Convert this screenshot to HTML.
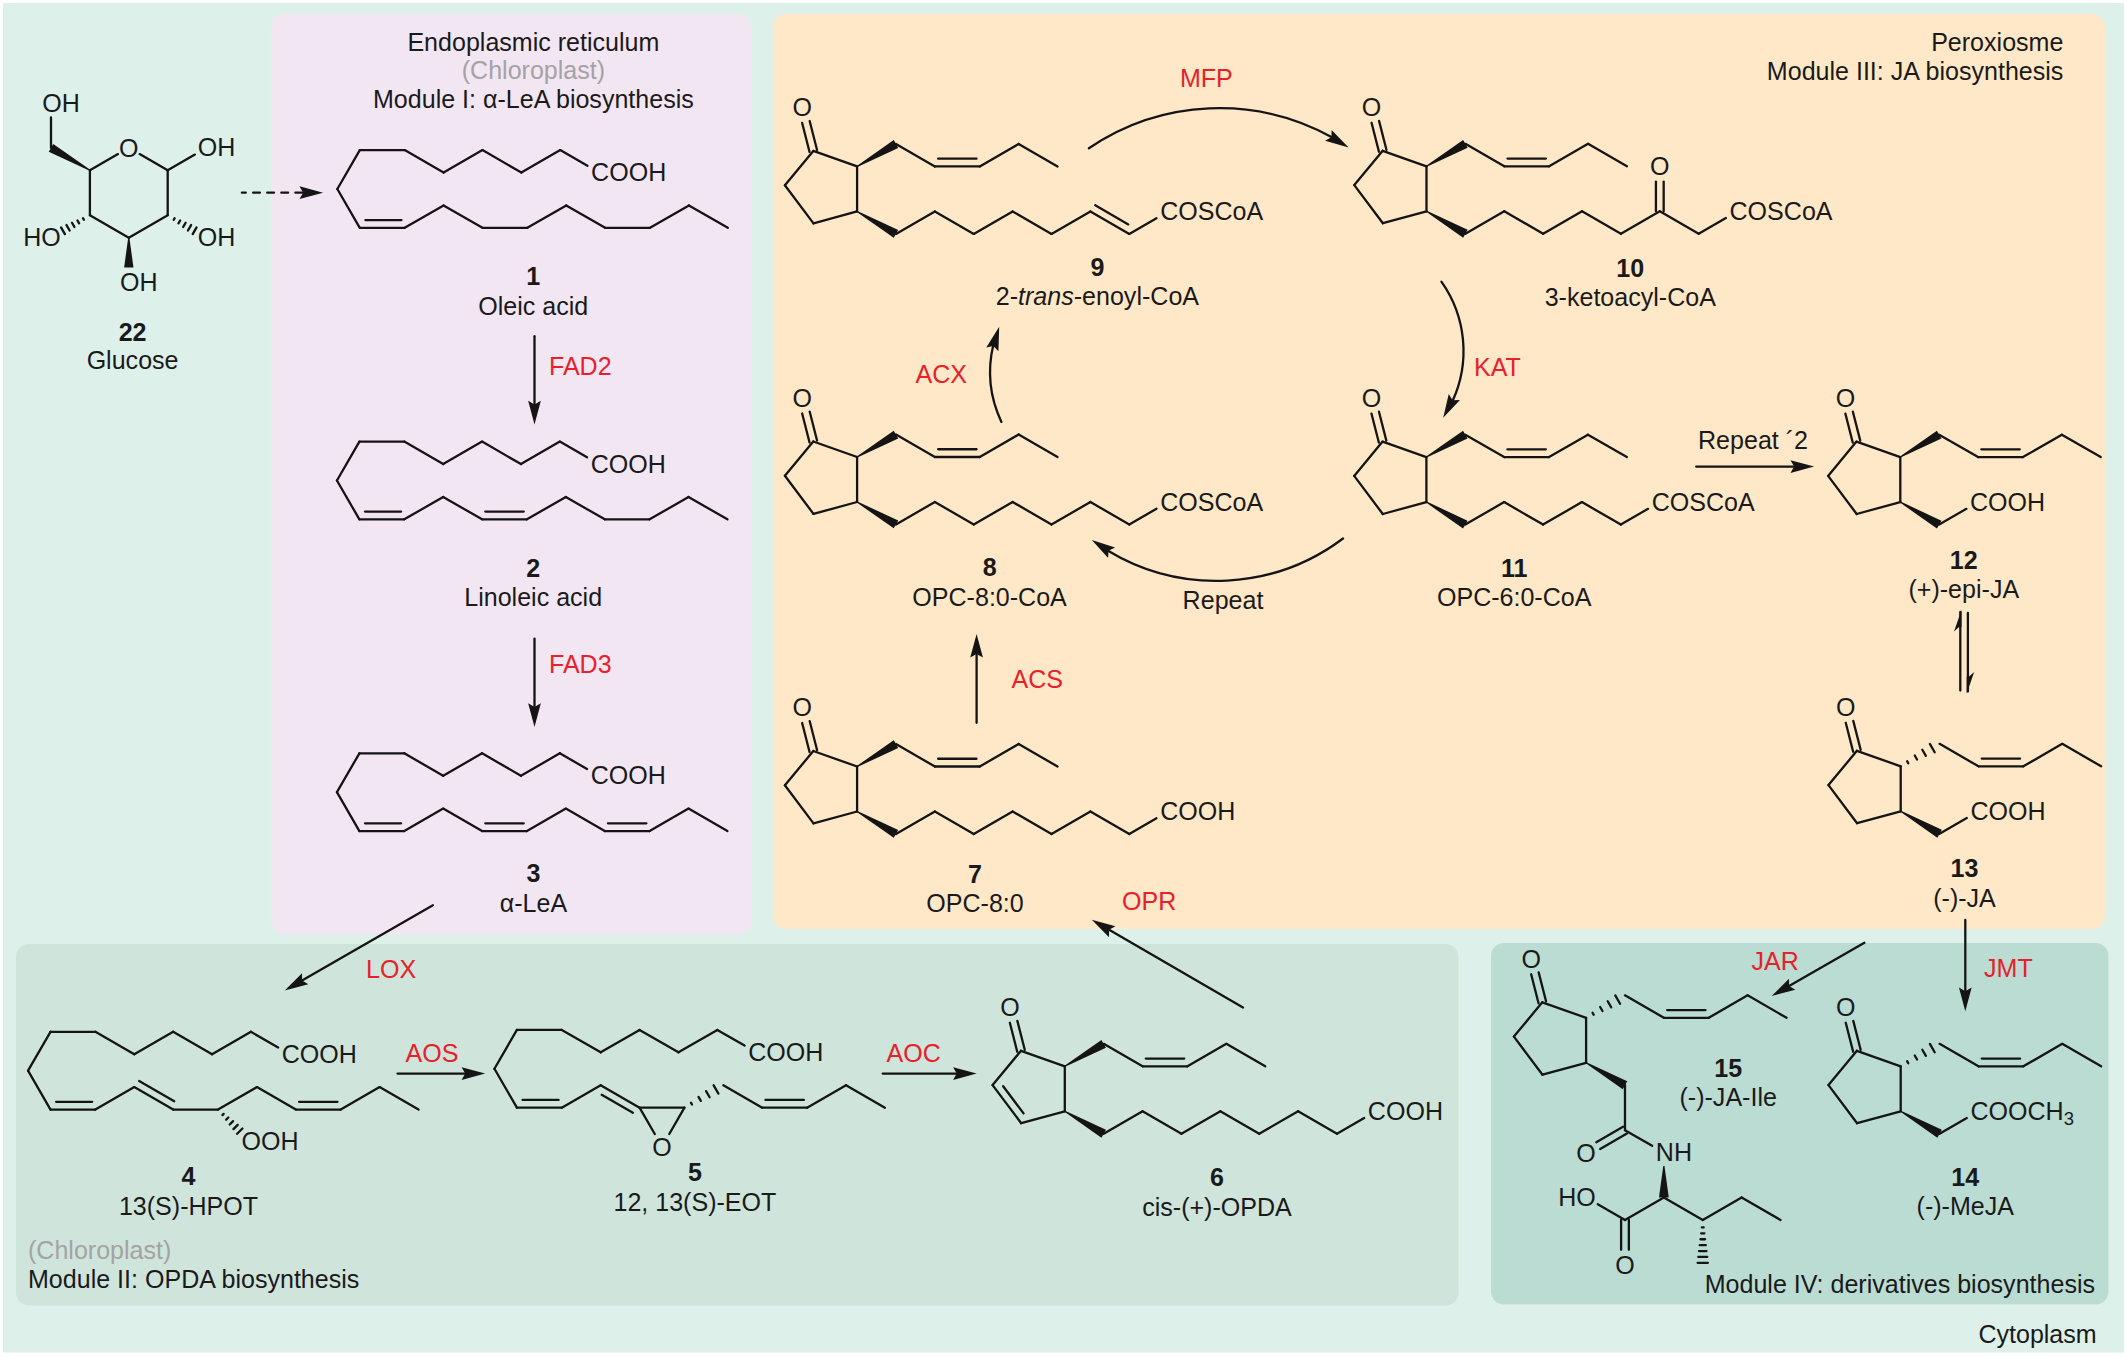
<!DOCTYPE html>
<html><head><meta charset="utf-8"><title>JA biosynthesis pathway</title>
<style>
html,body{margin:0;padding:0;background:#fff;}
svg{display:block}
text{font-family:"Liberation Sans",sans-serif;font-size:25.05px;fill:#1a1a1a;}
text.b{font-weight:bold}
line,path{stroke:#141414;stroke-width:2.3;stroke-linecap:round;}
</style></head><body>
<svg width="2126" height="1358" viewBox="0 0 2126 1358">
<rect x="0" y="0" width="2126" height="1358" fill="#ffffff"/>
<rect x="3" y="3" width="2121" height="1349.6" fill="#def0ea"/>
<rect x="271.3" y="14" width="480" height="920.3" rx="13.5" fill="#f3e6f3"/>
<rect x="773" y="14" width="1332" height="915" rx="13" fill="#fee8c7"/>
<rect x="16" y="944" width="1442.5" height="361.5" rx="13" fill="#cfe5dc"/>
<rect x="1491" y="943" width="617.5" height="361.5" rx="13" fill="#bbdcd2"/>
<line x1="89.9" y1="170.3" x2="117.97" y2="154.1"/>
<line x1="139.63" y1="154.1" x2="167.7" y2="170.3"/>
<line x1="167.7" y1="170.3" x2="167.7" y2="215.2"/>
<line x1="167.7" y1="215.2" x2="128.8" y2="237.65"/>
<line x1="128.8" y1="237.65" x2="89.9" y2="215.2"/>
<line x1="89.9" y1="215.2" x2="89.9" y2="170.3"/>
<polygon points="89.6,170.82 48.75,151.75 53.25,143.95 90.2,169.78" fill="#141414" stroke="none"/>
<line x1="51" y1="147.85" x2="51" y2="117.5"/>
<line x1="167.7" y1="170.3" x2="194.89" y2="154.6"/>
<line x1="174.66" y1="218.14" x2="173.73" y2="219.76" stroke-width="2.2" stroke-linecap="butt"/>
<line x1="180.14" y1="220.45" x2="178.47" y2="223.35" stroke-width="2.2" stroke-linecap="butt"/>
<line x1="185.62" y1="222.77" x2="183.21" y2="226.93" stroke-width="2.2" stroke-linecap="butt"/>
<line x1="191.1" y1="225.08" x2="187.95" y2="230.52" stroke-width="2.2" stroke-linecap="butt"/>
<line x1="196.57" y1="227.39" x2="192.69" y2="234.11" stroke-width="2.2" stroke-linecap="butt"/>
<polygon points="129.4,237.65 133.46,267.55 124.14,267.55 128.2,237.65" fill="#141414" stroke="none"/>
<line x1="83.87" y1="219.76" x2="82.94" y2="218.14" stroke-width="2.2" stroke-linecap="butt"/>
<line x1="79.13" y1="223.35" x2="77.46" y2="220.45" stroke-width="2.2" stroke-linecap="butt"/>
<line x1="74.39" y1="226.93" x2="71.98" y2="222.77" stroke-width="2.2" stroke-linecap="butt"/>
<line x1="69.65" y1="230.52" x2="66.5" y2="225.08" stroke-width="2.2" stroke-linecap="butt"/>
<line x1="64.91" y1="234.11" x2="61.03" y2="227.39" stroke-width="2.2" stroke-linecap="butt"/>
<text x="119.06" y="156.82">O</text>
<text x="42.26" y="111.57">OH</text>
<text x="197.84" y="156.42">OH</text>
<text x="197.84" y="246.22">OH</text>
<text x="120.06" y="291.12">OH</text>
<text x="60.76" y="246.22" text-anchor="end">HO</text>
<text x="132.6" y="340.6" text-anchor="middle" class="b">22</text>
<text x="132.6" y="369.2" text-anchor="middle">Glucose</text>
<line x1="241.9" y1="192.7" x2="304.1" y2="192.7" stroke-width="2.3" stroke-dasharray="6.8 7.3" stroke-dashoffset="2.9" stroke-linecap="butt"/>
<polygon points="323.1,192.7 299.5,199.05 303.1,192.7 299.5,186.35" fill="#141414" stroke="none"/>
<text x="533.4" y="51" text-anchor="middle">Endoplasmic reticulum</text>
<text x="533.4" y="79.3" text-anchor="middle" style="fill:#a3a3a3">(Chloroplast)</text>
<text x="533.4" y="108.4" text-anchor="middle">Module I: α-LeA biosynthesis</text>
<line x1="359.8" y1="150.1" x2="404.7" y2="150.1"/>
<line x1="404.7" y1="150.1" x2="443.58" y2="172.55"/>
<line x1="443.58" y1="172.55" x2="482.47" y2="150.1"/>
<line x1="482.47" y1="150.1" x2="521.35" y2="172.55"/>
<line x1="521.35" y1="172.55" x2="560.24" y2="150.1"/>
<line x1="560.24" y1="150.1" x2="587.43" y2="165.8"/>
<line x1="359.8" y1="150.1" x2="337.35" y2="188.98"/>
<line x1="359.8" y1="227.87" x2="404.7" y2="227.87"/>
<line x1="365.42" y1="220.12" x2="401.47" y2="220.12"/>
<line x1="404.7" y1="227.87" x2="443.58" y2="205.42"/>
<line x1="443.58" y1="205.42" x2="482.47" y2="227.87"/>
<line x1="482.47" y1="227.87" x2="527.37" y2="227.87"/>
<line x1="527.37" y1="227.87" x2="566.25" y2="205.42"/>
<line x1="566.25" y1="205.42" x2="605.14" y2="227.87"/>
<line x1="605.14" y1="227.87" x2="650.04" y2="227.87"/>
<line x1="650.04" y1="227.87" x2="688.92" y2="205.42"/>
<line x1="688.92" y1="205.42" x2="727.81" y2="227.87"/>
<line x1="337.35" y1="188.98" x2="359.8" y2="227.87"/>
<text x="591.08" y="181.12">COOH</text>
<text x="533.2" y="285.4" text-anchor="middle" class="b">1</text>
<text x="533.2" y="314.8" text-anchor="middle">Oleic acid</text>
<line x1="534.5" y1="336.2" x2="534.5" y2="405.4" stroke-width="2.3"/>
<polygon points="534.5,424.4 528.15,400.8 534.5,404.4 540.85,400.8" fill="#141414" stroke="none"/>
<text x="549" y="375" style="fill:#e6212a">FAD2</text>
<line x1="359.4" y1="441.6" x2="404.3" y2="441.6"/>
<line x1="404.3" y1="441.6" x2="443.18" y2="464.05"/>
<line x1="443.18" y1="464.05" x2="482.07" y2="441.6"/>
<line x1="482.07" y1="441.6" x2="520.95" y2="464.05"/>
<line x1="520.95" y1="464.05" x2="559.84" y2="441.6"/>
<line x1="559.84" y1="441.6" x2="587.03" y2="457.3"/>
<line x1="359.4" y1="441.6" x2="336.95" y2="480.48"/>
<line x1="359.4" y1="519.37" x2="404.3" y2="519.37"/>
<line x1="365.02" y1="511.62" x2="401.07" y2="511.62"/>
<line x1="404.3" y1="519.37" x2="443.18" y2="496.92"/>
<line x1="443.18" y1="496.92" x2="482.07" y2="519.37"/>
<line x1="482.07" y1="519.37" x2="526.97" y2="519.37"/>
<line x1="485.3" y1="511.62" x2="523.74" y2="511.62"/>
<line x1="526.97" y1="519.37" x2="565.85" y2="496.92"/>
<line x1="565.85" y1="496.92" x2="604.74" y2="519.37"/>
<line x1="604.74" y1="519.37" x2="649.64" y2="519.37"/>
<line x1="649.64" y1="519.37" x2="688.52" y2="496.92"/>
<line x1="688.52" y1="496.92" x2="727.41" y2="519.37"/>
<line x1="336.95" y1="480.48" x2="359.4" y2="519.37"/>
<text x="590.68" y="472.62">COOH</text>
<text x="533.2" y="576.8" text-anchor="middle" class="b">2</text>
<text x="533.2" y="605.8" text-anchor="middle">Linoleic acid</text>
<line x1="534.5" y1="638.6" x2="534.5" y2="707.9" stroke-width="2.3"/>
<polygon points="534.5,726.9 528.15,703.3 534.5,706.9 540.85,703.3" fill="#141414" stroke="none"/>
<text x="549" y="672.8" style="fill:#e6212a">FAD3</text>
<line x1="359.4" y1="753.3" x2="404.3" y2="753.3"/>
<line x1="404.3" y1="753.3" x2="443.18" y2="775.75"/>
<line x1="443.18" y1="775.75" x2="482.07" y2="753.3"/>
<line x1="482.07" y1="753.3" x2="520.95" y2="775.75"/>
<line x1="520.95" y1="775.75" x2="559.84" y2="753.3"/>
<line x1="559.84" y1="753.3" x2="587.03" y2="769"/>
<line x1="359.4" y1="753.3" x2="336.95" y2="792.18"/>
<line x1="359.4" y1="831.07" x2="404.3" y2="831.07"/>
<line x1="365.02" y1="823.32" x2="401.07" y2="823.32"/>
<line x1="404.3" y1="831.07" x2="443.18" y2="808.62"/>
<line x1="443.18" y1="808.62" x2="482.07" y2="831.07"/>
<line x1="482.07" y1="831.07" x2="526.97" y2="831.07"/>
<line x1="485.3" y1="823.32" x2="523.74" y2="823.32"/>
<line x1="526.97" y1="831.07" x2="565.85" y2="808.62"/>
<line x1="565.85" y1="808.62" x2="604.74" y2="831.07"/>
<line x1="604.74" y1="831.07" x2="649.64" y2="831.07"/>
<line x1="607.96" y1="823.32" x2="646.41" y2="823.32"/>
<line x1="649.64" y1="831.07" x2="688.52" y2="808.62"/>
<line x1="688.52" y1="808.62" x2="727.41" y2="831.07"/>
<line x1="336.95" y1="792.18" x2="359.4" y2="831.07"/>
<text x="590.68" y="784.32">COOH</text>
<text x="533.4" y="882.2" text-anchor="middle" class="b">3</text>
<text x="533.4" y="912" text-anchor="middle">α-LeA</text>
<line x1="432.9" y1="905.3" x2="301.17" y2="981.03" stroke-width="2.3"/>
<polygon points="284.7,990.5 302,973.23 302.04,980.53 308.32,984.24" fill="#141414" stroke="none"/>
<text x="366" y="977.9" style="fill:#e6212a">LOX</text>
<line x1="50.5" y1="1031.8" x2="95.4" y2="1031.8"/>
<line x1="95.4" y1="1031.8" x2="134.28" y2="1054.25"/>
<line x1="134.28" y1="1054.25" x2="173.17" y2="1031.8"/>
<line x1="173.17" y1="1031.8" x2="212.05" y2="1054.25"/>
<line x1="212.05" y1="1054.25" x2="250.94" y2="1031.8"/>
<line x1="250.94" y1="1031.8" x2="278.13" y2="1047.5"/>
<line x1="50.5" y1="1031.8" x2="28.05" y2="1070.68"/>
<line x1="50.5" y1="1109.57" x2="95.4" y2="1109.57"/>
<line x1="56.12" y1="1101.82" x2="92.17" y2="1101.82"/>
<line x1="95.4" y1="1109.57" x2="134.28" y2="1087.12"/>
<line x1="134.28" y1="1087.12" x2="173.17" y2="1109.57"/>
<line x1="139.16" y1="1080.98" x2="174.25" y2="1101.24"/>
<line x1="173.17" y1="1109.57" x2="218.07" y2="1109.57"/>
<line x1="218.07" y1="1109.57" x2="256.95" y2="1087.12"/>
<line x1="256.95" y1="1087.12" x2="295.84" y2="1109.57"/>
<line x1="295.84" y1="1109.57" x2="340.74" y2="1109.57"/>
<line x1="299.06" y1="1101.82" x2="337.51" y2="1101.82"/>
<line x1="340.74" y1="1109.57" x2="379.62" y2="1087.12"/>
<line x1="379.62" y1="1087.12" x2="418.51" y2="1109.57"/>
<line x1="28.05" y1="1070.68" x2="50.5" y2="1109.57"/>
<line x1="223.64" y1="1113.89" x2="222.43" y2="1115.12" stroke-width="2.2" stroke-linecap="butt"/>
<line x1="228.34" y1="1117.53" x2="226.1" y2="1119.79" stroke-width="2.2" stroke-linecap="butt"/>
<line x1="233.04" y1="1121.18" x2="229.77" y2="1124.46" stroke-width="2.2" stroke-linecap="butt"/>
<line x1="237.73" y1="1124.82" x2="233.44" y2="1129.14" stroke-width="2.2" stroke-linecap="butt"/>
<line x1="242.43" y1="1128.46" x2="237.12" y2="1133.81" stroke-width="2.2" stroke-linecap="butt"/>
<text x="281.78" y="1062.82">COOH</text>
<text x="241.56" y="1150.17">OOH</text>
<text x="188.5" y="1185.1" text-anchor="middle" class="b">4</text>
<text x="188.5" y="1214.5" text-anchor="middle">13(S)-HPOT</text>
<text x="28" y="1258.7" style="fill:#a3a3a3">(Chloroplast)</text>
<text x="28" y="1288">Module II: OPDA biosynthesis</text>
<line x1="397.5" y1="1073.6" x2="466.2" y2="1073.6" stroke-width="2.3"/>
<polygon points="485.2,1073.6 461.6,1079.95 465.2,1073.6 461.6,1067.25" fill="#141414" stroke="none"/>
<text x="405.5" y="1062" style="fill:#e6212a">AOS</text>
<line x1="516.9" y1="1029.9" x2="561.8" y2="1029.9"/>
<line x1="561.8" y1="1029.9" x2="600.68" y2="1052.35"/>
<line x1="600.68" y1="1052.35" x2="639.57" y2="1029.9"/>
<line x1="639.57" y1="1029.9" x2="678.45" y2="1052.35"/>
<line x1="678.45" y1="1052.35" x2="717.34" y2="1029.9"/>
<line x1="717.34" y1="1029.9" x2="744.53" y2="1045.6"/>
<line x1="516.9" y1="1029.9" x2="494.45" y2="1068.78"/>
<line x1="516.9" y1="1107.67" x2="561.8" y2="1107.67"/>
<line x1="522.52" y1="1099.92" x2="558.57" y2="1099.92"/>
<line x1="561.8" y1="1107.67" x2="600.68" y2="1085.22"/>
<line x1="600.68" y1="1085.22" x2="639.57" y2="1107.67"/>
<line x1="601.68" y1="1094.74" x2="632.9" y2="1112.77"/>
<line x1="639.57" y1="1107.67" x2="684.47" y2="1107.67"/>
<line x1="494.45" y1="1068.78" x2="516.9" y2="1107.67"/>
<line x1="639.57" y1="1107.67" x2="654.77" y2="1134"/>
<line x1="684.47" y1="1107.67" x2="669.27" y2="1134"/>
<line x1="690.95" y1="1102.7" x2="692.02" y2="1104.54" stroke-width="2.2" stroke-linecap="butt"/>
<line x1="698.51" y1="1096.9" x2="700.82" y2="1100.89" stroke-width="2.2" stroke-linecap="butt"/>
<line x1="706.08" y1="1091.1" x2="709.63" y2="1097.24" stroke-width="2.2" stroke-linecap="butt"/>
<line x1="713.64" y1="1085.3" x2="718.43" y2="1093.59" stroke-width="2.2" stroke-linecap="butt"/>
<line x1="723.35" y1="1085.22" x2="762.24" y2="1107.67"/>
<line x1="762.24" y1="1107.67" x2="807.14" y2="1107.67"/>
<line x1="765.46" y1="1099.92" x2="803.91" y2="1099.92"/>
<line x1="807.14" y1="1107.67" x2="846.02" y2="1085.22"/>
<line x1="846.02" y1="1085.22" x2="884.91" y2="1107.67"/>
<text x="748.18" y="1060.92">COOH</text>
<text x="652.27" y="1155.52">O</text>
<text x="694.9" y="1180.6" text-anchor="middle" class="b">5</text>
<text x="694.9" y="1210.6" text-anchor="middle">12, 13(S)-EOT</text>
<line x1="882.7" y1="1073.6" x2="957.7" y2="1073.6" stroke-width="2.3"/>
<polygon points="976.7,1073.6 953.1,1079.95 956.7,1073.6 953.1,1067.25" fill="#141414" stroke="none"/>
<text x="886.5" y="1062.1" style="fill:#e6212a">AOC</text>
<line x1="1021" y1="1050.8" x2="1064.8" y2="1066.3"/>
<line x1="1064.8" y1="1066.3" x2="1064.8" y2="1111.3"/>
<line x1="1064.8" y1="1111.3" x2="1021.2" y2="1123.2"/>
<line x1="1021.2" y1="1123.2" x2="992.6" y2="1085.1"/>
<line x1="1023.55" y1="1113.42" x2="1003.16" y2="1086.25"/>
<line x1="992.6" y1="1085.1" x2="1021" y2="1050.8"/>
<line x1="1017.25" y1="1051.76" x2="1009.85" y2="1022.79"/>
<line x1="1024.75" y1="1049.84" x2="1017.36" y2="1020.88"/>
<polygon points="1064.5,1065.78 1101.43,1039.95 1105.93,1047.75 1065.1,1066.82" fill="#141414" stroke="none"/>
<line x1="1103.68" y1="1043.85" x2="1142.57" y2="1066.3"/>
<line x1="1142.57" y1="1066.3" x2="1187.47" y2="1066.3"/>
<line x1="1145.8" y1="1058.55" x2="1184.24" y2="1058.55"/>
<line x1="1187.47" y1="1066.3" x2="1226.35" y2="1043.85"/>
<line x1="1226.35" y1="1043.85" x2="1265.24" y2="1066.3"/>
<polygon points="1065.1,1110.78 1105.93,1129.85 1101.43,1137.65 1064.5,1111.82" fill="#141414" stroke="none"/>
<line x1="1103.68" y1="1133.75" x2="1142.57" y2="1111.3"/>
<line x1="1142.57" y1="1111.3" x2="1181.45" y2="1133.75"/>
<line x1="1181.45" y1="1133.75" x2="1220.34" y2="1111.3"/>
<line x1="1220.34" y1="1111.3" x2="1259.22" y2="1133.75"/>
<line x1="1259.22" y1="1133.75" x2="1298.11" y2="1111.3"/>
<line x1="1298.11" y1="1111.3" x2="1336.99" y2="1133.75"/>
<line x1="1336.99" y1="1133.75" x2="1364.18" y2="1118.05"/>
<text x="1000.16" y="1016.27">O</text>
<text x="1367.83" y="1119.87">COOH</text>
<text x="1217" y="1185.9" text-anchor="middle" class="b">6</text>
<text x="1217" y="1215.5" text-anchor="middle">cis-(+)-OPDA</text>
<line x1="1243" y1="1007.5" x2="1108.24" y2="929.33" stroke-width="2.3"/>
<polygon points="1091.8,919.8 1115.4,926.15 1109.1,929.83 1109.03,937.13" fill="#141414" stroke="none"/>
<text x="1122" y="910" style="fill:#e6212a">OPR</text>
<line x1="813.3" y1="751" x2="857.1" y2="766.5"/>
<line x1="857.1" y1="766.5" x2="857.1" y2="811.5"/>
<line x1="857.1" y1="811.5" x2="813.5" y2="823.4"/>
<line x1="813.5" y1="823.4" x2="784.9" y2="785.3"/>
<line x1="784.9" y1="785.3" x2="813.3" y2="751"/>
<line x1="809.55" y1="751.96" x2="802.15" y2="722.99"/>
<line x1="817.05" y1="750.04" x2="809.66" y2="721.08"/>
<polygon points="856.8,765.98 893.73,740.15 898.23,747.95 857.4,767.02" fill="#141414" stroke="none"/>
<line x1="895.98" y1="744.05" x2="934.87" y2="766.5"/>
<line x1="934.87" y1="766.5" x2="979.77" y2="766.5"/>
<line x1="938.1" y1="758.75" x2="976.54" y2="758.75"/>
<line x1="979.77" y1="766.5" x2="1018.65" y2="744.05"/>
<line x1="1018.65" y1="744.05" x2="1057.54" y2="766.5"/>
<polygon points="857.4,810.98 898.23,830.05 893.73,837.85 856.8,812.02" fill="#141414" stroke="none"/>
<line x1="895.98" y1="833.95" x2="934.87" y2="811.5"/>
<line x1="934.87" y1="811.5" x2="973.75" y2="833.95"/>
<line x1="973.75" y1="833.95" x2="1012.64" y2="811.5"/>
<line x1="1012.64" y1="811.5" x2="1051.52" y2="833.95"/>
<line x1="1051.52" y1="833.95" x2="1090.41" y2="811.5"/>
<line x1="1090.41" y1="811.5" x2="1129.29" y2="833.95"/>
<line x1="1129.29" y1="833.95" x2="1156.48" y2="818.25"/>
<text x="792.46" y="716.47">O</text>
<text x="1160.13" y="820.07">COOH</text>
<text x="975" y="882.6" text-anchor="middle" class="b">7</text>
<text x="975" y="911.9" text-anchor="middle">OPC-8:0</text>
<line x1="976.6" y1="722.8" x2="976.6" y2="652.9" stroke-width="2.3"/>
<polygon points="976.6,633.9 982.95,657.5 976.6,653.9 970.25,657.5" fill="#141414" stroke="none"/>
<text x="1011.5" y="687.9" style="fill:#e6212a">ACS</text>
<line x1="813.3" y1="441.5" x2="857.1" y2="457"/>
<line x1="857.1" y1="457" x2="857.1" y2="502"/>
<line x1="857.1" y1="502" x2="813.5" y2="513.9"/>
<line x1="813.5" y1="513.9" x2="784.9" y2="475.8"/>
<line x1="784.9" y1="475.8" x2="813.3" y2="441.5"/>
<line x1="809.55" y1="442.46" x2="802.15" y2="413.49"/>
<line x1="817.05" y1="440.54" x2="809.66" y2="411.58"/>
<polygon points="856.8,456.48 893.73,430.65 898.23,438.45 857.4,457.52" fill="#141414" stroke="none"/>
<line x1="895.98" y1="434.55" x2="934.87" y2="457"/>
<line x1="934.87" y1="457" x2="979.77" y2="457"/>
<line x1="938.1" y1="449.25" x2="976.54" y2="449.25"/>
<line x1="979.77" y1="457" x2="1018.65" y2="434.55"/>
<line x1="1018.65" y1="434.55" x2="1057.54" y2="457"/>
<polygon points="857.4,501.48 898.23,520.55 893.73,528.35 856.8,502.52" fill="#141414" stroke="none"/>
<line x1="895.98" y1="524.45" x2="934.87" y2="502"/>
<line x1="934.87" y1="502" x2="973.75" y2="524.45"/>
<line x1="973.75" y1="524.45" x2="1012.64" y2="502"/>
<line x1="1012.64" y1="502" x2="1051.52" y2="524.45"/>
<line x1="1051.52" y1="524.45" x2="1090.41" y2="502"/>
<line x1="1090.41" y1="502" x2="1129.29" y2="524.45"/>
<line x1="1129.29" y1="524.45" x2="1156.48" y2="508.75"/>
<text x="792.46" y="406.97">O</text>
<text x="1160.13" y="510.57">COSCoA</text>
<text x="989.6" y="575.8" text-anchor="middle" class="b">8</text>
<text x="989.6" y="605.8" text-anchor="middle">OPC-8:0-CoA</text>
<path d="M1001.4,421.9 A117,117 0 0 1 993.33,344.85" fill="none" stroke-width="2.3"/>
<polygon points="999.2,326.8 998.42,351.23 993.39,345.94 986.27,347.54" fill="#141414" stroke="none"/>
<text x="915.5" y="383.1" style="fill:#e6212a">ACX</text>
<line x1="813.3" y1="150.95" x2="857.1" y2="166.45"/>
<line x1="857.1" y1="166.45" x2="857.1" y2="211.45"/>
<line x1="857.1" y1="211.45" x2="813.5" y2="223.35"/>
<line x1="813.5" y1="223.35" x2="784.9" y2="185.25"/>
<line x1="784.9" y1="185.25" x2="813.3" y2="150.95"/>
<line x1="809.55" y1="151.91" x2="802.15" y2="122.94"/>
<line x1="817.05" y1="149.99" x2="809.66" y2="121.03"/>
<polygon points="856.8,165.93 893.73,140.1 898.23,147.9 857.4,166.97" fill="#141414" stroke="none"/>
<line x1="895.98" y1="144" x2="934.87" y2="166.45"/>
<line x1="934.87" y1="166.45" x2="979.77" y2="166.45"/>
<line x1="938.1" y1="158.7" x2="976.54" y2="158.7"/>
<line x1="979.77" y1="166.45" x2="1018.65" y2="144"/>
<line x1="1018.65" y1="144" x2="1057.54" y2="166.45"/>
<polygon points="857.4,210.93 898.23,230 893.73,237.8 856.8,211.97" fill="#141414" stroke="none"/>
<line x1="895.98" y1="233.9" x2="934.87" y2="211.45"/>
<line x1="934.87" y1="211.45" x2="973.75" y2="233.9"/>
<line x1="973.75" y1="233.9" x2="1012.64" y2="211.45"/>
<line x1="1012.64" y1="211.45" x2="1051.52" y2="233.9"/>
<line x1="1051.52" y1="233.9" x2="1090.41" y2="211.45"/>
<line x1="1090.41" y1="211.45" x2="1129.29" y2="233.9"/>
<line x1="1095.28" y1="205.31" x2="1128.3" y2="224.38"/>
<line x1="1129.29" y1="233.9" x2="1156.48" y2="218.2"/>
<text x="792.46" y="116.42">O</text>
<text x="1160.13" y="220.02">COSCoA</text>
<text x="1097.4" y="275.8" text-anchor="middle" class="b">9</text>
<text x="1097.4" y="305.4" text-anchor="middle">2-<tspan font-style="italic">trans</tspan>-enoyl-CoA</text>
<path d="M1088.9,148.3 A232.2,232.2 0 0 1 1332.4,137.58" fill="none" stroke-width="2.3"/>
<polygon points="1348.6,147.5 1325.09,140.82 1331.44,137.23 1331.61,129.93" fill="#141414" stroke="none"/>
<text x="1206.4" y="86.6" text-anchor="middle" style="fill:#e6212a">MFP</text>
<line x1="1382.7" y1="150.8" x2="1426.5" y2="166.3"/>
<line x1="1426.5" y1="166.3" x2="1426.5" y2="211.3"/>
<line x1="1426.5" y1="211.3" x2="1382.9" y2="223.2"/>
<line x1="1382.9" y1="223.2" x2="1354.3" y2="185.1"/>
<line x1="1354.3" y1="185.1" x2="1382.7" y2="150.8"/>
<line x1="1378.95" y1="151.76" x2="1371.55" y2="122.79"/>
<line x1="1386.45" y1="149.84" x2="1379.06" y2="120.88"/>
<polygon points="1426.2,165.78 1463.13,139.95 1467.63,147.75 1426.8,166.82" fill="#141414" stroke="none"/>
<line x1="1465.38" y1="143.85" x2="1504.27" y2="166.3"/>
<line x1="1504.27" y1="166.3" x2="1549.17" y2="166.3"/>
<line x1="1507.5" y1="158.55" x2="1545.94" y2="158.55"/>
<line x1="1549.17" y1="166.3" x2="1588.05" y2="143.85"/>
<line x1="1588.05" y1="143.85" x2="1626.94" y2="166.3"/>
<polygon points="1426.8,210.78 1467.63,229.85 1463.13,237.65 1426.2,211.82" fill="#141414" stroke="none"/>
<line x1="1465.38" y1="233.75" x2="1504.27" y2="211.3"/>
<line x1="1504.27" y1="211.3" x2="1543.15" y2="233.75"/>
<line x1="1543.15" y1="233.75" x2="1582.04" y2="211.3"/>
<line x1="1582.04" y1="211.3" x2="1620.92" y2="233.75"/>
<line x1="1620.92" y1="233.75" x2="1659.81" y2="211.3"/>
<line x1="1659.81" y1="211.3" x2="1698.69" y2="233.75"/>
<line x1="1698.69" y1="233.75" x2="1725.88" y2="218.05"/>
<line x1="1655.93" y1="211.3" x2="1655.93" y2="181.6"/>
<line x1="1663.68" y1="211.3" x2="1663.68" y2="181.6"/>
<text x="1361.86" y="116.27">O</text>
<text x="1729.53" y="219.87">COSCoA</text>
<text x="1650.06" y="175.37">O</text>
<text x="1630.3" y="276.8" text-anchor="middle" class="b">10</text>
<text x="1630.3" y="306.2" text-anchor="middle">3-ketoacyl-CoA</text>
<text x="2063.4" y="51" text-anchor="end">Peroxiosme</text>
<text x="2063.4" y="80.4" text-anchor="end">Module III: JA biosynthesis</text>
<path d="M1441.4,281.6 A120,120 0 0 1 1452.48,401.25" fill="none" stroke-width="2.3"/>
<polygon points="1443.2,417.8 1448.75,394 1452.65,400.17 1459.94,400" fill="#141414" stroke="none"/>
<text x="1474" y="376.4" style="fill:#e6212a">KAT</text>
<line x1="1382.6" y1="441.6" x2="1426.4" y2="457.1"/>
<line x1="1426.4" y1="457.1" x2="1426.4" y2="502.1"/>
<line x1="1426.4" y1="502.1" x2="1382.8" y2="514"/>
<line x1="1382.8" y1="514" x2="1354.2" y2="475.9"/>
<line x1="1354.2" y1="475.9" x2="1382.6" y2="441.6"/>
<line x1="1378.85" y1="442.56" x2="1371.45" y2="413.59"/>
<line x1="1386.35" y1="440.64" x2="1378.96" y2="411.68"/>
<polygon points="1426.1,456.58 1463.03,430.75 1467.53,438.55 1426.7,457.62" fill="#141414" stroke="none"/>
<line x1="1465.28" y1="434.65" x2="1504.17" y2="457.1"/>
<line x1="1504.17" y1="457.1" x2="1549.07" y2="457.1"/>
<line x1="1507.4" y1="449.35" x2="1545.84" y2="449.35"/>
<line x1="1549.07" y1="457.1" x2="1587.95" y2="434.65"/>
<line x1="1587.95" y1="434.65" x2="1626.84" y2="457.1"/>
<polygon points="1426.7,501.58 1467.53,520.65 1463.03,528.45 1426.1,502.62" fill="#141414" stroke="none"/>
<line x1="1465.28" y1="524.55" x2="1504.17" y2="502.1"/>
<line x1="1504.17" y1="502.1" x2="1543.05" y2="524.55"/>
<line x1="1543.05" y1="524.55" x2="1581.94" y2="502.1"/>
<line x1="1581.94" y1="502.1" x2="1620.82" y2="524.55"/>
<line x1="1620.82" y1="524.55" x2="1648.02" y2="508.85"/>
<text x="1361.76" y="407.07">O</text>
<text x="1651.66" y="510.67">COSCoA</text>
<text x="1514.2" y="577" text-anchor="middle" class="b">11</text>
<text x="1514.2" y="605.8" text-anchor="middle">OPC-6:0-CoA</text>
<path d="M1343,538.5 A210.4,210.4 0 0 1 1107.59,550.45" fill="none" stroke-width="2.3"/>
<polygon points="1091.8,539.9 1115.04,547.48 1108.55,550.83 1108.1,558.11" fill="#141414" stroke="none"/>
<text x="1223" y="609.4" text-anchor="middle">Repeat</text>
<line x1="1696.2" y1="466.6" x2="1795.1" y2="466.6" stroke-width="2.3"/>
<polygon points="1814.1,466.6 1790.5,472.95 1794.1,466.6 1790.5,460.25" fill="#141414" stroke="none"/>
<text x="1698" y="449.4">Repeat ´2</text>
<line x1="1856.5" y1="441.6" x2="1900.3" y2="457.1"/>
<line x1="1900.3" y1="457.1" x2="1900.3" y2="502.1"/>
<line x1="1900.3" y1="502.1" x2="1856.7" y2="514"/>
<line x1="1856.7" y1="514" x2="1828.1" y2="475.9"/>
<line x1="1828.1" y1="475.9" x2="1856.5" y2="441.6"/>
<line x1="1852.75" y1="442.56" x2="1845.35" y2="413.59"/>
<line x1="1860.25" y1="440.64" x2="1852.86" y2="411.68"/>
<polygon points="1900,456.58 1936.93,430.75 1941.43,438.55 1900.6,457.62" fill="#141414" stroke="none"/>
<line x1="1939.18" y1="434.65" x2="1978.07" y2="457.1"/>
<line x1="1978.07" y1="457.1" x2="2022.97" y2="457.1"/>
<line x1="1981.3" y1="449.35" x2="2019.74" y2="449.35"/>
<line x1="2022.97" y1="457.1" x2="2061.85" y2="434.65"/>
<line x1="2061.85" y1="434.65" x2="2100.74" y2="457.1"/>
<polygon points="1900.6,501.58 1941.43,520.65 1936.93,528.45 1900,502.62" fill="#141414" stroke="none"/>
<line x1="1939.18" y1="524.55" x2="1966.38" y2="508.85"/>
<text x="1835.66" y="407.07">O</text>
<text x="1970.03" y="510.67">COOH</text>
<text x="1963.8" y="568.8" text-anchor="middle" class="b">12</text>
<text x="1963.8" y="598.1" text-anchor="middle">(+)-epi-JA</text>
<line x1="1960.3" y1="690.5" x2="1960.3" y2="612" stroke-width="2.4"/>
<polygon points="1961.5,610 1954,631.5 1959.1,627 1961.5,627" fill="#141414" stroke="none"/>
<line x1="1967.9" y1="613" x2="1967.9" y2="691.6" stroke-width="2.4"/>
<polygon points="1966.7,693.6 1974.2,672.1 1969.1,676.6 1966.7,676.6" fill="#141414" stroke="none"/>
<line x1="1856.9" y1="750.8" x2="1900.7" y2="766.3"/>
<line x1="1900.7" y1="766.3" x2="1900.7" y2="811.3"/>
<line x1="1900.7" y1="811.3" x2="1857.1" y2="823.2"/>
<line x1="1857.1" y1="823.2" x2="1828.5" y2="785.1"/>
<line x1="1828.5" y1="785.1" x2="1856.9" y2="750.8"/>
<line x1="1853.15" y1="751.76" x2="1845.75" y2="722.79"/>
<line x1="1860.65" y1="749.84" x2="1853.26" y2="720.88"/>
<line x1="1907.18" y1="761.33" x2="1908.25" y2="763.17" stroke-width="2.2" stroke-linecap="butt"/>
<line x1="1914.75" y1="755.53" x2="1917.05" y2="759.52" stroke-width="2.2" stroke-linecap="butt"/>
<line x1="1922.31" y1="749.73" x2="1925.86" y2="755.87" stroke-width="2.2" stroke-linecap="butt"/>
<line x1="1929.87" y1="743.93" x2="1934.66" y2="752.22" stroke-width="2.2" stroke-linecap="butt"/>
<line x1="1939.58" y1="743.85" x2="1978.47" y2="766.3"/>
<line x1="1978.47" y1="766.3" x2="2023.37" y2="766.3"/>
<line x1="1981.7" y1="758.55" x2="2020.14" y2="758.55"/>
<line x1="2023.37" y1="766.3" x2="2062.25" y2="743.85"/>
<line x1="2062.25" y1="743.85" x2="2101.14" y2="766.3"/>
<polygon points="1901,810.78 1941.83,829.85 1937.33,837.65 1900.4,811.82" fill="#141414" stroke="none"/>
<line x1="1939.58" y1="833.75" x2="1966.78" y2="818.05"/>
<text x="1836.06" y="716.27">O</text>
<text x="1970.43" y="819.87">COOH</text>
<text x="1964.5" y="876.8" text-anchor="middle" class="b">13</text>
<text x="1964.5" y="906.6" text-anchor="middle">(-)-JA</text>
<line x1="1965.3" y1="920" x2="1965.3" y2="992.2" stroke-width="2.3"/>
<polygon points="1965.3,1011.2 1958.95,987.6 1965.3,991.2 1971.65,987.6" fill="#141414" stroke="none"/>
<text x="1984" y="976.6" style="fill:#e6212a">JMT</text>
<line x1="1864.4" y1="942.8" x2="1788.18" y2="986.54" stroke-width="2.3"/>
<polygon points="1771.7,996 1789.01,978.75 1789.05,986.04 1795.33,989.76" fill="#141414" stroke="none"/>
<text x="1751.5" y="969.9" style="fill:#e6212a">JAR</text>
<line x1="1856.9" y1="1050.8" x2="1900.7" y2="1066.3"/>
<line x1="1900.7" y1="1066.3" x2="1900.7" y2="1111.3"/>
<line x1="1900.7" y1="1111.3" x2="1857.1" y2="1123.2"/>
<line x1="1857.1" y1="1123.2" x2="1828.5" y2="1085.1"/>
<line x1="1828.5" y1="1085.1" x2="1856.9" y2="1050.8"/>
<line x1="1853.15" y1="1051.76" x2="1845.75" y2="1022.79"/>
<line x1="1860.65" y1="1049.84" x2="1853.26" y2="1020.88"/>
<line x1="1907.18" y1="1061.33" x2="1908.25" y2="1063.17" stroke-width="2.2" stroke-linecap="butt"/>
<line x1="1914.75" y1="1055.53" x2="1917.05" y2="1059.52" stroke-width="2.2" stroke-linecap="butt"/>
<line x1="1922.31" y1="1049.73" x2="1925.86" y2="1055.87" stroke-width="2.2" stroke-linecap="butt"/>
<line x1="1929.87" y1="1043.93" x2="1934.66" y2="1052.22" stroke-width="2.2" stroke-linecap="butt"/>
<line x1="1939.58" y1="1043.85" x2="1978.47" y2="1066.3"/>
<line x1="1978.47" y1="1066.3" x2="2023.37" y2="1066.3"/>
<line x1="1981.7" y1="1058.55" x2="2020.14" y2="1058.55"/>
<line x1="2023.37" y1="1066.3" x2="2062.25" y2="1043.85"/>
<line x1="2062.25" y1="1043.85" x2="2101.14" y2="1066.3"/>
<polygon points="1901,1110.78 1941.83,1129.85 1937.33,1137.65 1900.4,1111.82" fill="#141414" stroke="none"/>
<line x1="1939.58" y1="1133.75" x2="1966.78" y2="1118.05"/>
<text x="1836.06" y="1016.27">O</text>
<text x="1970.43" y="1119.87">COOCH<tspan dy="5.5" font-size="18.5">3</tspan></text>
<text x="1965.3" y="1185.7" text-anchor="middle" class="b">14</text>
<text x="1965.3" y="1214.6" text-anchor="middle">(-)-MeJA</text>
<line x1="1542.3" y1="1002.3" x2="1586.1" y2="1017.8"/>
<line x1="1586.1" y1="1017.8" x2="1586.1" y2="1062.8"/>
<line x1="1586.1" y1="1062.8" x2="1542.5" y2="1074.7"/>
<line x1="1542.5" y1="1074.7" x2="1513.9" y2="1036.6"/>
<line x1="1513.9" y1="1036.6" x2="1542.3" y2="1002.3"/>
<line x1="1538.55" y1="1003.26" x2="1531.15" y2="974.29"/>
<line x1="1546.05" y1="1001.34" x2="1538.66" y2="972.38"/>
<line x1="1592.58" y1="1012.83" x2="1593.65" y2="1014.67" stroke-width="2.2" stroke-linecap="butt"/>
<line x1="1600.15" y1="1007.03" x2="1602.45" y2="1011.02" stroke-width="2.2" stroke-linecap="butt"/>
<line x1="1607.71" y1="1001.23" x2="1611.26" y2="1007.37" stroke-width="2.2" stroke-linecap="butt"/>
<line x1="1615.27" y1="995.43" x2="1620.06" y2="1003.72" stroke-width="2.2" stroke-linecap="butt"/>
<line x1="1624.98" y1="995.35" x2="1663.87" y2="1017.8"/>
<line x1="1663.87" y1="1017.8" x2="1708.77" y2="1017.8"/>
<line x1="1667.1" y1="1010.05" x2="1705.54" y2="1010.05"/>
<line x1="1708.77" y1="1017.8" x2="1747.65" y2="995.35"/>
<line x1="1747.65" y1="995.35" x2="1786.54" y2="1017.8"/>
<polygon points="1586.4,1062.28 1627.23,1081.35 1622.73,1089.15 1585.8,1063.32" fill="#141414" stroke="none"/>
<line x1="1624.98" y1="1085.25" x2="1624.98" y2="1130.15"/>
<line x1="1626.92" y1="1133.51" x2="1600.16" y2="1148.96"/>
<line x1="1623.05" y1="1126.79" x2="1596.29" y2="1142.24"/>
<line x1="1624.98" y1="1130.15" x2="1652.18" y2="1145.85"/>
<polygon points="1664.47,1166.1 1668.77,1197.5 1658.97,1197.5 1663.27,1166.1" fill="#141414" stroke="none"/>
<line x1="1663.87" y1="1197.5" x2="1624.98" y2="1219.95"/>
<line x1="1624.98" y1="1219.95" x2="1597.79" y2="1204.25"/>
<line x1="1628.86" y1="1219.95" x2="1628.86" y2="1249.85"/>
<line x1="1621.11" y1="1219.95" x2="1621.11" y2="1249.85"/>
<line x1="1663.87" y1="1197.5" x2="1702.75" y2="1219.95"/>
<line x1="1702.75" y1="1219.95" x2="1741.64" y2="1197.5"/>
<line x1="1741.64" y1="1197.5" x2="1780.52" y2="1219.95"/>
<line x1="1703.66" y1="1227.45" x2="1701.85" y2="1227.45" stroke-width="2.2" stroke-linecap="butt"/>
<line x1="1704.37" y1="1233.35" x2="1701.14" y2="1233.35" stroke-width="2.2" stroke-linecap="butt"/>
<line x1="1705.07" y1="1239.25" x2="1700.43" y2="1239.25" stroke-width="2.2" stroke-linecap="butt"/>
<line x1="1705.78" y1="1245.15" x2="1699.72" y2="1245.15" stroke-width="2.2" stroke-linecap="butt"/>
<line x1="1706.49" y1="1251.05" x2="1699.01" y2="1251.05" stroke-width="2.2" stroke-linecap="butt"/>
<line x1="1707.2" y1="1256.95" x2="1698.3" y2="1256.95" stroke-width="2.2" stroke-linecap="butt"/>
<line x1="1707.91" y1="1262.85" x2="1697.59" y2="1262.85" stroke-width="2.2" stroke-linecap="butt"/>
<text x="1521.46" y="967.77">O</text>
<text x="1576.36" y="1161.57">O</text>
<text x="1655.83" y="1161.17">NH</text>
<text x="1595.84" y="1206.07" text-anchor="end">HO</text>
<text x="1615.24" y="1273.82">O</text>
<text x="1728.2" y="1076.9" text-anchor="middle" class="b">15</text>
<text x="1728.2" y="1105.8" text-anchor="middle">(-)-JA-Ile</text>
<text x="2095" y="1293.4" text-anchor="end">Module IV: derivatives biosynthesis</text>
<text x="2096.7" y="1343.4" text-anchor="end">Cytoplasm</text>
</svg>
</body></html>
